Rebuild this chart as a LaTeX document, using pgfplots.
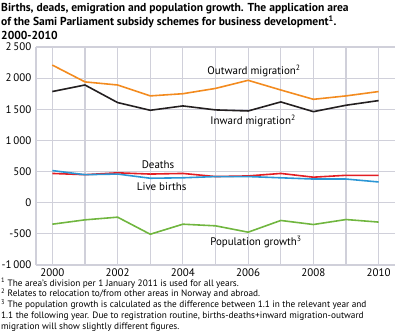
\documentclass[border=0pt]{standalone}
\usepackage{fontspec}
\setmainfont{PT Sans}
\usepackage{pgfplots}
\pgfplotsset{compat=1.18}
\definecolor{gridc}{RGB}{208,208,218}
\definecolor{cOut}{RGB}{243,139,31}
\definecolor{cIn}{RGB}{35,31,32}
\definecolor{cDeath}{RGB}{227,30,36}
\definecolor{cBirth}{RGB}{43,150,213}
\definecolor{cGrowth}{RGB}{112,182,63}
\begin{document}
\begin{tikzpicture}
\path[use as bounding box] (-36bp,-67bp) rectangle (362bp,265bp);
\begin{axis}[
  at={(0,0)}, anchor=south west,
  scale only axis, width=359bp, height=218bp,
  xmin=1999.5, xmax=2010.5, ymin=-1000, ymax=2500,
  axis x line=bottom, axis y line=left,
  axis line style={gridc, line width=1.2pt, -},
  xtick={2000,2001,...,2010},
  xticklabels={2000,,2002,,2004,,2006,,2008,,2010},
  ytick={-1000,-500,0,500,1000,1500,2000,2500},
  major tick length=0pt,
  grid=major,
  major grid style={gridc, line width=1.2pt},
  ticklabel style={font=\fontsize{11}{13}\selectfont, text=black, inner sep=0.5pt},
  /pgf/number format/assume math mode=true,
  /pgf/number format/1000 sep={\,},
  yticklabel style={xshift=-4bp},
  xticklabel style={yshift=-2.5bp},
  clip=false,
  every axis plot/.append style={line width=1.6pt, no marks},
]
\addplot[cDeath] coordinates {(2000,470)(2001,450)(2002,480)(2003,460)(2004,470)(2005,420)(2006,430)(2007,470)(2008,410)(2009,440)(2010,440)};
\addplot[cBirth] coordinates {(2000,516)(2001,450)(2002,460)(2003,393)(2004,400)(2005,420)(2006,420)(2007,400)(2008,380)(2009,380)(2010,333)};
\addplot[cOut] coordinates {(2000,2210)(2001,1940)(2002,1890)(2003,1715)(2004,1750)(2005,1835)(2006,1965)(2007,1810)(2008,1660)(2009,1715)(2010,1785)};
\addplot[cIn] coordinates {(2000,1785)(2001,1890)(2002,1608)(2003,1484)(2004,1554)(2005,1490)(2006,1473)(2007,1618)(2008,1462)(2009,1565)(2010,1640)};
\addplot[cGrowth] coordinates {(2000,-345)(2001,-275)(2002,-232)(2003,-506)(2004,-345)(2005,-371)(2006,-473)(2007,-285)(2008,-350)(2009,-270)(2010,-311)};
\node[font=\fontsize{11}{13}\selectfont] at (axis cs:2006.18,2120) {Outward migration\textsuperscript{2}};
\node[font=\fontsize{11}{13}\selectfont] at (axis cs:2006.15,1311) {Inward migration\textsuperscript{2}};
\node[font=\fontsize{11}{13}\selectfont] at (axis cs:2003.24,605) {Deaths};
\node[font=\fontsize{11}{13}\selectfont] at (axis cs:2003.35,257) {Live births};
\node[font=\fontsize{11}{13}\selectfont] at (axis cs:2006.24,-636) {Population growth\textsuperscript{3}};
\end{axis}
\node[anchor=north west, align=left, inner sep=0, font=\bfseries\fontsize{11.6}{14}\selectfont] at (-35bp,262bp)
 {Births, deads, emigration and population growth. The application area\\
  of the Sami Parliament subsidy schemes for business development\textsuperscript{1}.\\
  2000-2010};
\node[anchor=north west, align=left, inner sep=0, font=\fontsize{9.3}{10.9}\selectfont] at (-35bp,-12.5bp)
 {\textsuperscript{1} The area's division per 1 January 2011 is used for all years.\\
  \textsuperscript{2} Relates to relocation to/from other areas in Norway and abroad.\\
  \textsuperscript{3} The population growth is calculated as the difference between 1.1 in the relevant year and\\
  1.1 the following year. Due to registration routine, births-deaths+inward migration-outward\\
  migration will show slightly different figures.};
\end{tikzpicture}
\end{document}
